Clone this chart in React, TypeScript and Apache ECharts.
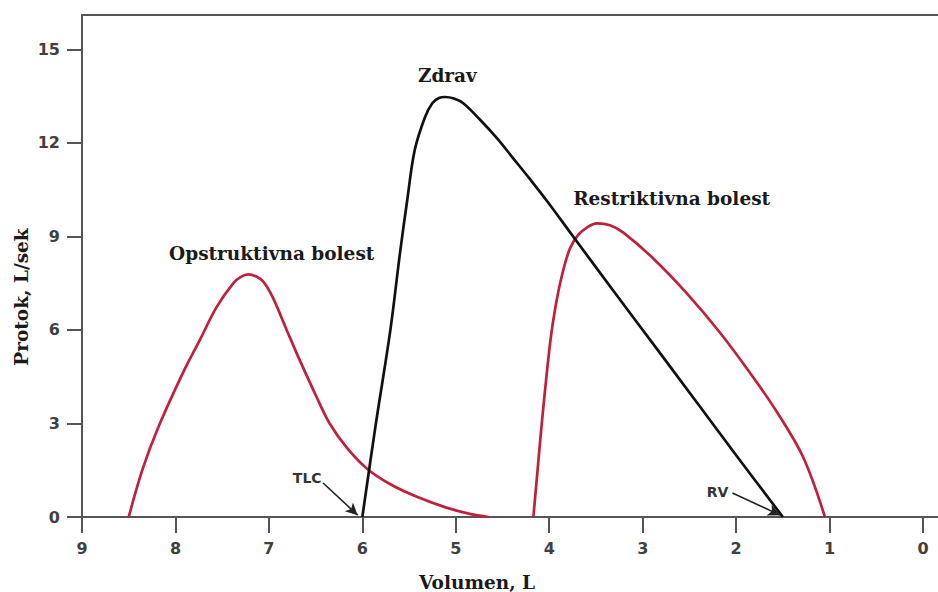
import React, { useEffect, useRef } from "react";
import * as echarts from "echarts";

// Axis ticks
const volumeTicks = [0, 1, 2, 3, 4, 5, 6, 7, 8, 9];
const flowTicks = [0, 3, 6, 9, 12, 15];

// Healthy ("Zdrav") flow-volume curve
const healthyVolume = [6.0, 5.86, 5.7, 5.6, 5.52, 5.44, 5.33, 5.25, 5.18, 5.115, 5.02, 4.92, 4.74, 4.56, 4.39, 4.21, 4.02, 3.75, 3.32, 2.8, 2.39, 2.0, 1.5];
const healthyFlow = [0, 2.9, 6.0, 8.4, 10.16, 11.76, 12.82, 13.28, 13.44, 13.47, 13.42, 13.27, 12.74, 12.15, 11.52, 10.85, 10.12, 9.02, 7.28, 5.2, 3.55, 1.98, 0];

// Obstructive disease curve
const obstructiveVolume = [8.5, 8.35, 8.18, 7.92, 7.74, 7.56, 7.38, 7.3, 7.22, 7.14, 7.06, 6.96, 6.81, 6.67, 6.49, 6.35, 6.16, 5.95, 5.7, 5.41, 5.1, 4.85, 4.65];
const obstructiveFlow = [0, 1.55, 2.9, 4.62, 5.67, 6.73, 7.5, 7.7, 7.78, 7.72, 7.55, 7.05, 6.0, 5.03, 3.85, 3.0, 2.2, 1.55, 1.05, 0.64, 0.3, 0.1, 0];

// Restrictive disease curve
const restrictiveVolume = [4.17, 4.125, 4.08, 3.99, 3.93, 3.86, 3.78, 3.69, 3.59, 3.49, 3.35, 3.21, 2.89, 2.53, 2.17, 1.82, 1.56, 1.28, 1.05];
const restrictiveFlow = [0, 1.5, 3.0, 5.6, 6.8, 7.8, 8.6, 9.05, 9.3, 9.42, 9.36, 9.13, 8.3, 7.18, 5.9, 4.49, 3.35, 1.9, 0];

// Curve labels (text, volume, flow)
const curveLabels = ["Zdrav", "Opstruktivna bolest", "Restriktivna bolest"];
const curveLabelVolume = [5.09, 6.97, 2.69];
const curveLabelFlow = [14.17, 8.46, 10.22];

// Pointer labels (text, label position, arrow start, arrow end)
const pointerLabels = ["TLC", "RV"];
const pointerLabelVolume = [6.59, 2.2];
const pointerLabelFlow = [1.25, 0.8];
const arrowFromVolume = [6.42, 2.04];
const arrowFromFlow = [1.09, 0.77];
const arrowToVolume = [6.05, 1.53];
const arrowToFlow = [0.06, 0.06];

const xTitle = "Volumen, L";
const yTitle = "Protok, L/sek";

const zip = (xs: number[], ys: number[]) => xs.map((x, i) => [x, ys[i]]);

export default function App() {
  const ref = useRef<HTMLDivElement>(null);

  useEffect(() => {
    const chart = echarts.init(ref.current!, null, { renderer: "svg" });
    const axisColor = "#555";
    const labelStyle = {
      color: "#404040",
      fontFamily: "DejaVu Sans",
      fontWeight: "bold" as const,
      fontSize: 16,
    };
    const red = "#c2203a";
    const serif = "bold 18.5px 'DejaVu Serif'";

    chart.setOption({
      animation: false,
      backgroundColor: "#fff",
      grid: { left: 82, right: 0, top: 15, bottom: 75 },
      xAxis: [
        {
          type: "value",
          inverse: true,
          min: -0.16,
          max: 9,
          axisLine: { show: true, onZero: false, lineStyle: { color: axisColor, width: 2 } },
          axisTick: { show: true, length: 16, customValues: volumeTicks, lineStyle: { color: axisColor, width: 2 } },
          axisLabel: { ...labelStyle, margin: 23, customValues: volumeTicks },
          splitLine: { show: false },
        },
        {
          type: "value",
          position: "top",
          inverse: true,
          min: -0.16,
          max: 9,
          axisLine: { show: true, onZero: false, lineStyle: { color: axisColor, width: 2 } },
          axisTick: { show: false },
          axisLabel: { show: false },
          splitLine: { show: false },
        },
      ],
      yAxis: {
        type: "value",
        min: 0,
        max: 16.1,
        axisLine: { show: true, onZero: false, lineStyle: { color: axisColor, width: 2 } },
        axisTick: { show: true, length: 15, customValues: flowTicks, lineStyle: { color: axisColor, width: 2 } },
        axisLabel: { ...labelStyle, margin: 22, customValues: flowTicks },
        splitLine: { show: false },
      },
      series: [
        {
          name: "Opstruktivna bolest",
          type: "line",
          data: zip(obstructiveVolume, obstructiveFlow),
          showSymbol: false,
          smooth: 0.35,
          lineStyle: { color: red, width: 2.7 },
        },
        {
          name: "Restriktivna bolest",
          type: "line",
          data: zip(restrictiveVolume, restrictiveFlow),
          showSymbol: false,
          smooth: 0.35,
          lineStyle: { color: red, width: 2.7 },
        },
        {
          name: "Zdrav",
          type: "line",
          data: zip(healthyVolume, healthyFlow),
          showSymbol: false,
          smooth: 0.35,
          lineStyle: { color: "#111", width: 2.7 },
          markLine: {
            silent: true,
            symbol: ["none", "arrow"],
            symbolSize: [9, 12],
            label: { show: false },
            lineStyle: { color: "#222", width: 1.6, type: "solid" },
            data: pointerLabels.map((_, i) => [
              { coord: [arrowFromVolume[i], arrowFromFlow[i]] },
              { coord: [arrowToVolume[i], arrowToFlow[i]] },
            ]),
          },
        },
      ],
    });

    const toPx = (x: number, y: number) =>
      chart.convertToPixel({ xAxisIndex: 0, yAxisIndex: 0 }, [x, y]) as number[];

    const graphics: any[] = [];
    curveLabels.forEach((t, i) => {
      const p = toPx(curveLabelVolume[i], curveLabelFlow[i]);
      graphics.push({
        type: "text",
        x: p[0],
        y: p[1],
        style: { text: t, fill: "#1a1a1a", font: serif, align: "center", verticalAlign: "middle" },
      });
    });
    pointerLabels.forEach((t, i) => {
      const p = toPx(pointerLabelVolume[i], pointerLabelFlow[i]);
      graphics.push({
        type: "text",
        x: p[0],
        y: p[1],
        style: {
          text: t,
          fill: "#333",
          font: "bold 14px 'DejaVu Sans'",
          align: "center",
          verticalAlign: "middle",
        },
      });
    });
    graphics.push({
      type: "text",
      x: 477,
      y: 582,
      style: { text: xTitle, fill: "#1a1a1a", font: serif, align: "center", verticalAlign: "middle" },
    });
    graphics.push({
      type: "text",
      x: 21,
      y: 297,
      rotation: Math.PI / 2,
      style: { text: yTitle, fill: "#1a1a1a", font: serif, align: "center", verticalAlign: "middle" },
    });
    chart.setOption({ graphic: graphics });

    return () => chart.dispose();
  }, []);

  return (
    <div
      ref={ref}
      style={{ position: "fixed", left: 0, top: 0, width: 938, height: 592 }}
    />
  );
}
